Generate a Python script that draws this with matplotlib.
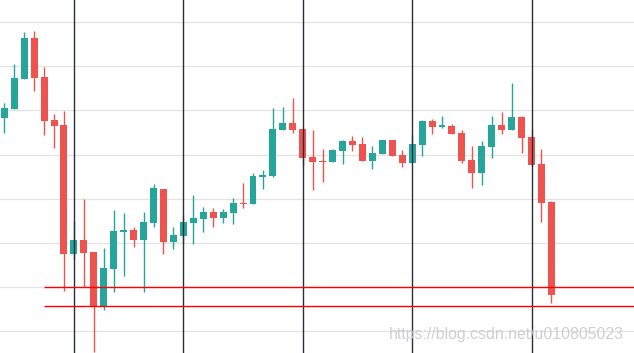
import matplotlib.pyplot as plt
import numpy as np

# --- Data: OHLC per candle ---
opens = [148.3, 150.3, 157.1, 166.4, 157.6, 147.9, 146.7, 117.5, 120.6, 117.9,
         105.4, 114.1, 122.5, 122.9, 120.6, 124.5, 132.2, 120.2, 121.5, 124.5,
         125.4, 127.0, 125.6, 126.8, 129.0, 128.8, 134.9, 135.1, 145.6, 147.2,
         145.8, 139.5, 138.6, 138.3, 140.8, 143.1, 142.4, 138.6, 140.1, 143.3,
         139.9, 138.1, 142.2, 147.6, 146.3, 146.5, 144.9, 138.8, 135.8, 141.7,
         146.7, 145.6, 148.5, 144.0, 137.9, 129.2]
highs = [151.7, 160.5, 167.8, 168.0, 159.9, 149.2, 149.9, 124.9, 129.9, 117.9,
         118.8, 127.4, 126.8, 123.6, 127.0, 133.3, 132.2, 123.6, 126.3, 130.8,
         128.1, 127.9, 127.7, 130.2, 133.6, 135.8, 136.5, 150.6, 150.8, 152.8,
         146.3, 145.6, 141.3, 141.3, 143.3, 144.2, 144.0, 142.0, 143.3, 143.3,
         141.0, 144.4, 147.9, 148.1, 148.7, 146.9, 145.6, 142.0, 143.1, 148.7,
         149.7, 156.2, 148.8, 145.8, 141.3, 129.5]
lows = [144.9, 150.3, 157.1, 154.4, 144.4, 141.5, 109.1, 116.3, 110.0, 95.2,
        104.8, 108.8, 112.5, 119.0, 108.8, 123.6, 117.5, 118.6, 120.0, 119.7,
        122.5, 123.6, 124.5, 124.3, 127.9, 128.8, 132.2, 134.9, 145.6, 144.9,
        137.4, 132.0, 133.8, 138.3, 137.9, 140.8, 138.6, 136.7, 140.1, 139.7,
        137.2, 138.1, 139.7, 144.7, 146.0, 144.7, 138.1, 132.4, 133.1, 139.2,
        144.7, 145.6, 140.4, 137.4, 124.7, 106.3]
closes = [150.6, 157.4, 166.4, 157.4, 147.6, 146.5, 117.5, 120.6, 117.7, 105.7,
          114.3, 122.7, 122.9, 120.6, 124.7, 132.4, 120.2, 121.8, 124.7, 125.6,
          127.0, 125.6, 127.0, 129.0, 128.8, 135.1, 135.4, 145.8, 147.2, 145.6,
          139.2, 138.3, 138.3, 141.1, 143.1, 142.2, 138.6, 140.4, 143.3, 139.7,
          138.1, 142.4, 147.6, 146.3, 146.5, 144.7, 138.6, 135.8, 142.0, 146.7,
          145.6, 148.5, 143.8, 137.6, 129.0, 108.2]

marker_idx = [7, 18, 30, 41, 53]       # vertical separators
levels = [110.0, 105.7]                 # horizontal levels
level_start = 4

up_col = '#26a69a'
down_col = '#ef5350'

o = np.array(opens)
h = np.array(highs)
l = np.array(lows)
c = np.array(closes)
x = np.arange(len(o))
cols = np.where(c >= o, up_col, down_col)

fig = plt.figure(figsize=(6.34, 3.53), dpi=100)
ax = fig.add_axes([0, 0, 1, 1])

# grid
for g in np.arange(100, 171, 10):
    ax.axhline(g, color='#e3e3e3', lw=0.9, zorder=0)

# candles
ax.vlines(x, l, h, colors=cols, lw=1.0, zorder=2)
body_h = np.maximum(np.abs(c - o), 0.3)
ax.bar(x, body_h, bottom=np.minimum(o, c), width=0.7, color=cols, zorder=3)

# separators and levels
for i in marker_idx:
    ax.axvline(i, color='#2a2e39', lw=1.0, zorder=4)
for lv in levels:
    ax.hlines(lv, level_start - 0.05, 70, color='red', lw=1.0, zorder=5)

ax.set_xlim(-0.43, 63.3)
ax.set_ylim(95.0, 175.06)
ax.axis('off')

fig.text(0.984, 0.051, 'https://blog.csdn.net/u010805023', ha='right', va='center',
         fontsize=11.4, family='Liberation Sans', color='#c8c8c8', alpha=0.85, zorder=10)

fig.savefig('out.png', dpi=100)
